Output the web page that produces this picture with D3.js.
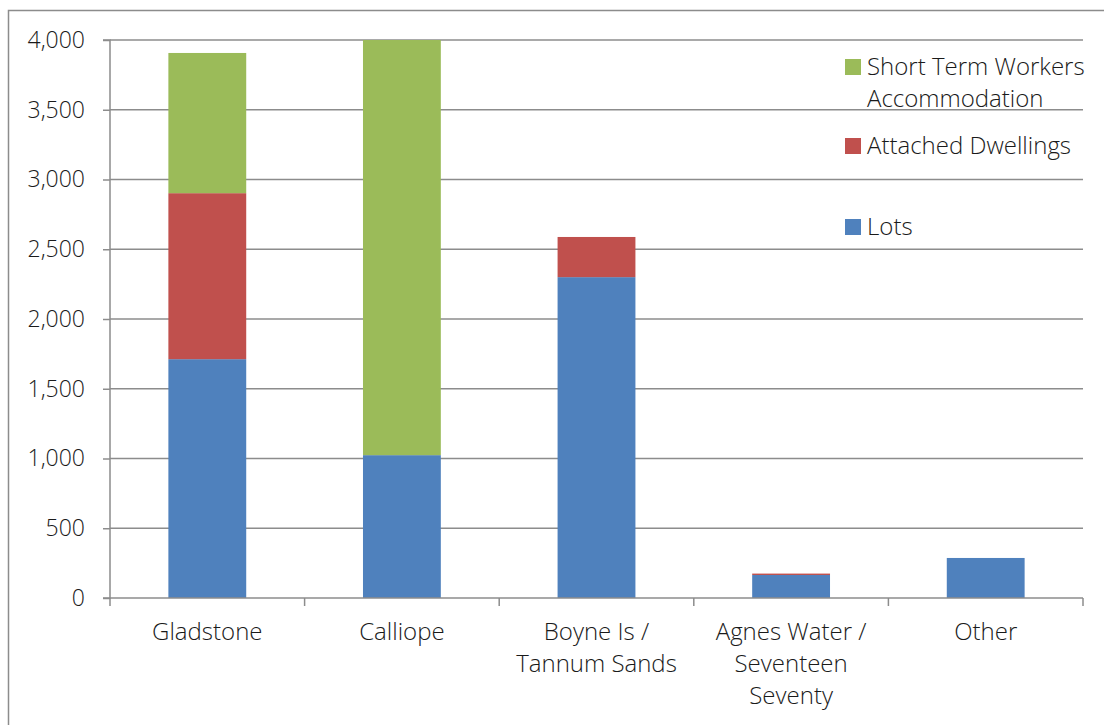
<!DOCTYPE html>
<html>
<head>
<meta charset="utf-8">
<script src="https://cdn.jsdelivr.net/npm/d3@7"></script>
<style>
  body { margin: 0; background: #fff; }
  text { font-family: "Open Sans", "Liberation Sans", sans-serif; font-weight: 300; fill: #1a1a1a; }
</style>
</head>
<body>
<div id="chart"></div>
<script>
// Data
const categories = [["Gladstone"], ["Calliope"], ["Boyne Is /", "Tannum Sands"], ["Agnes Water /", "Seventeen", "Seventy"], ["Other"]];
const lots = [1712, 1024, 2300, 165, 287];
const attached = [1190, 0, 288, 10, 0];
const workers = [1005, 2976, 0, 0, 0];
const seriesNames = ["Lots", "Attached Dwellings", "Short Term Workers Accommodation"];
const yTicks = [0, 500, 1000, 1500, 2000, 2500, 3000, 3500, 4000];

const svgWidth = 1104, svgHeight = 725;
const margin = { top: 40, right: 21, bottom: 127, left: 110 };
const width = svgWidth - margin.left - margin.right;
const height = svgHeight - margin.top - margin.bottom;

const svg = d3.select("#chart").append("svg")
    .attr("width", svgWidth)
    .attr("height", svgHeight);

// outer frame
svg.append("rect")
    .attr("x", 8.5).attr("y", 10.5)
    .attr("width", 1120).attr("height", 740)
    .attr("fill", "none").attr("stroke", "#8c8c8c").attr("stroke-width", 1.5);

const g = svg.append("g").attr("transform", `translate(${margin.left},${margin.top})`);

const rows = categories.map((c, i) => ({ key: i, Lots: lots[i], "Attached Dwellings": attached[i], "Short Term Workers Accommodation": workers[i] }));

const x = d3.scaleBand()
    .domain(rows.map(d => d.key))
    .range([0, width])
    .paddingInner(0.6)
    .paddingOuter(0.3);

const y = d3.scaleLinear().domain([0, 4000]).range([height, 0]).clamp(true);

const color = d3.scaleOrdinal()
    .domain(seriesNames)
    .range(["#4f81bd", "#c0504d", "#9bbb59"]);

// gridlines
g.append("g")
    .selectAll("line")
    .data(yTicks.filter(t => t > 0))
    .enter().append("line")
    .attr("x1", 0).attr("x2", width)
    .attr("y1", d => y(d)).attr("y2", d => y(d))
    .attr("stroke", "#8c8c8c").attr("stroke-width", 1.5);

// stacked bars
const stack = d3.stack().keys(seriesNames)(rows);
g.append("g")
    .selectAll("g")
    .data(stack)
    .enter().append("g")
    .attr("fill", d => color(d.key))
    .selectAll("rect")
    .data(d => d)
    .enter().append("rect")
    .attr("x", d => x(d.data.key))
    .attr("y", d => y(d[1]))
    .attr("width", x.bandwidth())
    .attr("height", d => y(d[0]) - y(d[1]));

// y axis
const yAxis = g.append("g")
    .call(d3.axisLeft(y).tickValues(yTicks).tickFormat(d3.format(",")).tickSize(7).tickPadding(18));
yAxis.selectAll("text").attr("font-size", 23).style("font-family", null);
yAxis.selectAll("line, path").attr("stroke", "#8c8c8c").attr("stroke-width", 1.5);
yAxis.select("path").attr("d", `M-7,${height}H0V0H-7`);

// x axis
const xAxis = g.append("g").attr("transform", `translate(0,${height})`);
xAxis.append("line")
    .attr("x1", 0).attr("x2", width)
    .attr("stroke", "#8c8c8c").attr("stroke-width", 1.5);
xAxis.selectAll(".tick")
    .data(d3.range(categories.length + 1))
    .enter().append("line")
    .attr("x1", i => i === categories.length ? width : x.step() * i)
    .attr("x2", i => i === categories.length ? width : x.step() * i)
    .attr("y1", 0).attr("y2", 8)
    .attr("stroke", "#8c8c8c").attr("stroke-width", 1.5);

const labels = xAxis.selectAll(".lab")
    .data(rows)
    .enter().append("text")
    .attr("text-anchor", "middle")
    .attr("font-size", 24)
    .attr("x", d => x(d.key) + x.bandwidth() / 2)
    .attr("y", 42);
labels.selectAll("tspan")
    .data(d => categories[d.key])
    .enter().append("tspan")
    .attr("x", function () { return this.parentNode.getAttribute("x"); })
    .attr("dy", (d, i) => i === 0 ? 0 : 32)
    .text(d => d);

// legend
const legendItems = [
    { name: "Short Term Workers Accommodation", lines: ["Short Term Workers", "Accommodation"], y: 67 },
    { name: "Attached Dwellings", lines: ["Attached Dwellings"], y: 146 },
    { name: "Lots", lines: ["Lots"], y: 227 }
];
const legend = svg.append("g")
    .selectAll("g")
    .data(legendItems)
    .enter().append("g")
    .attr("transform", d => `translate(845,${d.y})`);
legend.append("rect")
    .attr("y", -8)
    .attr("width", 16).attr("height", 16)
    .attr("fill", d => color(d.name));
legend.append("text")
    .attr("x", 22)
    .attr("y", 8)
    .attr("font-size", 24)
    .selectAll("tspan")
    .data(d => d.lines)
    .enter().append("tspan")
    .attr("x", 22)
    .attr("dy", (d, i) => i === 0 ? 0 : 32)
    .text(d => d);
</script>
</body>
</html>
